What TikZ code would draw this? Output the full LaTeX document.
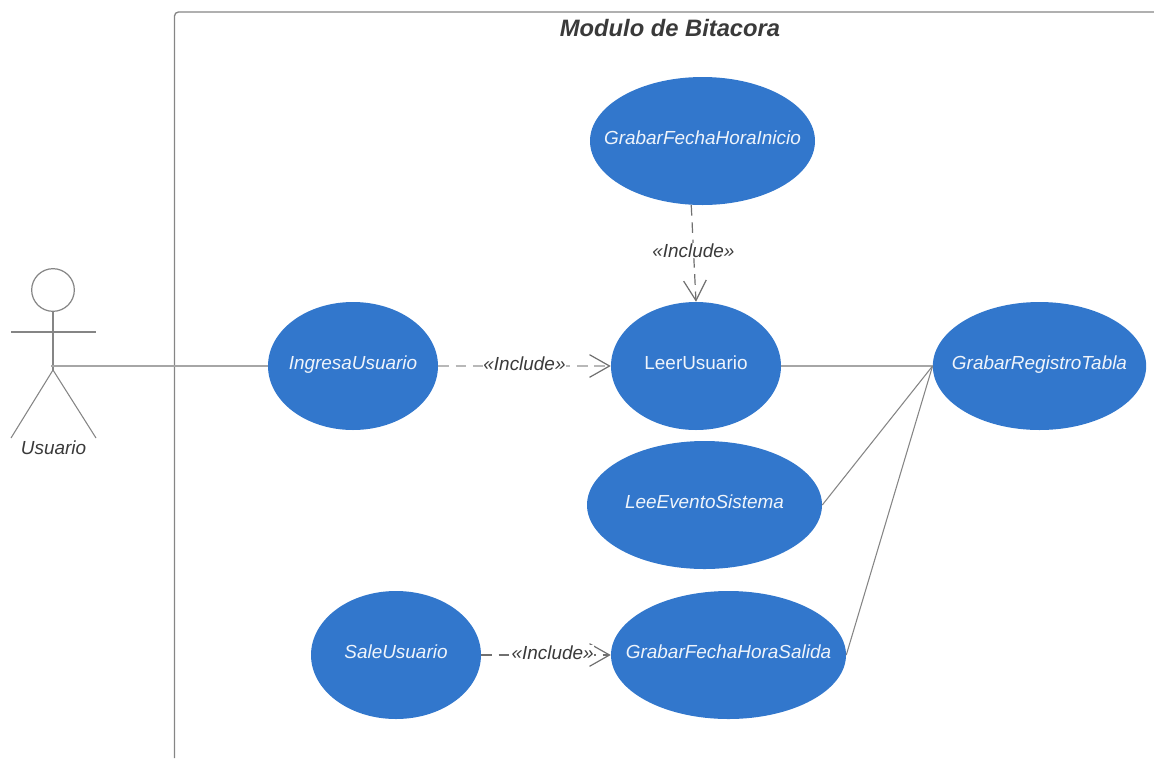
\documentclass[tikz,border=0pt]{standalone}
\usepackage{fontspec}
\setmainfont{Liberation Sans}
\usetikzlibrary{shapes.geometric,arrows.meta}
\definecolor{ucblue}{HTML}{3277CC}
\definecolor{inkgray}{HTML}{3A3A3A}
\definecolor{linegray}{HTML}{858585}
\definecolor{softgray}{HTML}{B8B8B8}
\definecolor{thickgray}{HTML}{A6A6A6}
\definecolor{tipgray}{HTML}{707070}
\tikzset{
  usecase/.style={ellipse,fill=ucblue,draw=none,inner sep=0pt,minimum height=96pt},
  uctext/.style={text=white!92!ucblue,yshift=2.2pt,text height=10pt,text depth=0pt,font=\fontsize{14.2}{17}\selectfont\itshape},
  incl/.style={text=inkgray,fill=white,inner sep=0.3pt,yshift=2pt,font=\fontsize{14.2}{17}\selectfont\itshape},
  thin line/.style={draw=linegray,line width=0.8pt},
  thick line/.style={draw=thickgray,line width=1.8pt},
  dep/.style={dash pattern=on 8pt off 5pt,-{Straight Barb[color=tipgray,length=15pt,width=17pt,line width=0.9pt]}},
}
\begin{document}
\begin{tikzpicture}[x=0.75pt,y=-0.75pt]
\useasboundingbox (0,0) rectangle (1154,758);
% system boundary
\draw[draw=linegray,line width=1pt,rounded corners=3pt] (174.5,758) -- (174.5,12) -- (1154,12);
\node[text=inkgray,font=\fontsize{17.8}{21}\selectfont\bfseries\itshape] (title) at (670,28) {Modulo de Bitacora};
% use cases
\node[usecase,minimum width=168.75pt,label={[uctext]center:GrabarFechaHoraInicio}] (gfi) at (702.5,141) {};
\node[usecase,minimum width=127.5pt,label={[uctext]center:IngresaUsuario}] (ing) at (353,366) {};
\node[usecase,minimum width=127.5pt,label={[uctext,font=\fontsize{14.2}{17}\selectfont]center:LeerUsuario}] (leer) at (696,366) {};
\node[usecase,minimum width=160pt,label={[uctext]center:GrabarRegistroTabla}] (grt) at (1039.5,366) {};
\node[usecase,minimum width=176.25pt,label={[uctext]center:LeeEventoSistema}] (lee) at (704.5,505) {};
\node[usecase,minimum width=127.5pt,label={[uctext]center:SaleUsuario}] (sale) at (396,655) {};
\node[usecase,minimum width=176.25pt,label={[uctext]center:GrabarFechaHoraSalida}] (gfs) at (728.5,655) {};
% actor
\node[circle,draw=linegray,line width=0.9pt,minimum size=32pt,inner sep=0pt] (head) at (53,290) {};
\coordinate (hip) at (53,370);
\coordinate (handl) at (11,332);
\coordinate (handr) at (96,332);
\coordinate (footl) at (11,438);
\coordinate (footr) at (96,438);
\coordinate (attach) at (51,366);
\draw[thin line] (head.south) -- (hip);
\draw[thin line] (handl) -- (handr);
\draw[thin line] (footl) -- (hip) -- (footr);
\node[text=inkgray,font=\fontsize{14.2}{17}\selectfont\itshape] (actor) at (53.5,448) {Usuario};
% connectors
\draw[thick line] (attach) -- (ing.west);
\draw[thick line] (leer.east) -- (grt.west);
\draw[thin line] (lee.east) -- (grt.west);
\draw[thin line] (gfs.east) -- (grt.west);
\draw[softgray,line width=1.5pt,dep] (ing.east) -- node[incl] (l1) {«Include»} (leer.west);
\draw[tipgray,line width=0.9pt,dep] (gfi.260) -- node[incl,pos=0.47,yshift=-2pt] (l2) {«Include»} (leer.north);
\draw[tipgray,line width=0.8pt,dep] (sale.east) -- node[incl,xshift=5pt] (l3) {«Include»} (gfs.west);
\end{tikzpicture}
\end{document}
